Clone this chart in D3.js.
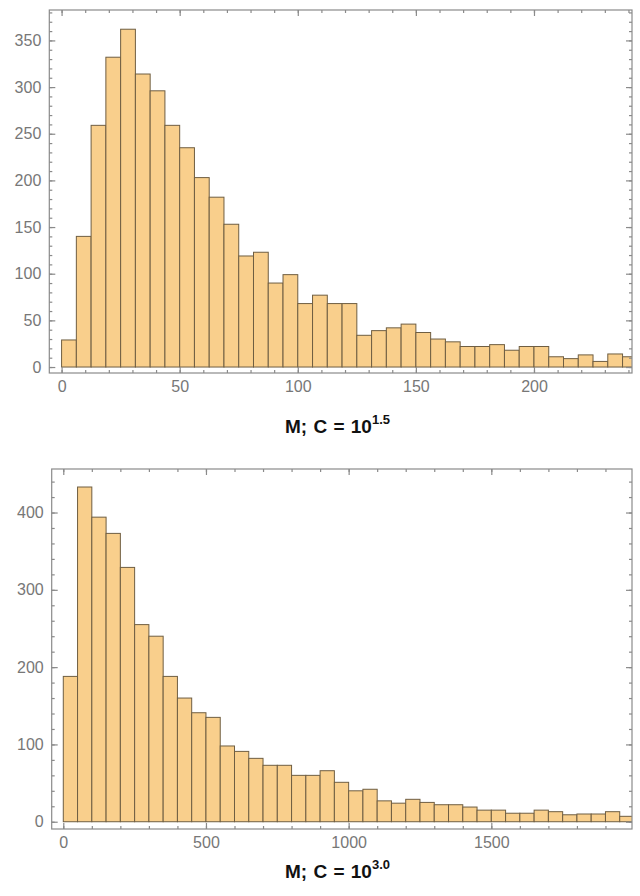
<!DOCTYPE html>
<html>
<head>
<meta charset="utf-8">
<script src="https://cdn.jsdelivr.net/npm/d3@7"></script>
<style>
  body { margin: 0; background: #fff; }
  svg { display: block; }
  .tick text { font-family: "Liberation Sans", Arial, sans-serif; fill: #777; }
</style>
</head>
<body>
<div id="chart"></div>
<script>
// histogram counts
const topBinWidth = 6.25;
const topCounts = [29, 140, 259, 332, 362, 314, 296, 259, 235, 203, 182, 153, 119, 123, 90, 99,
  68, 77, 68, 68, 34, 39, 42, 46, 37, 30, 27, 22, 22, 24, 18, 22, 22, 11, 9, 13, 6, 14, 11];
const topXTicks = [0, 50, 100, 150, 200];
const topYTicks = [0, 50, 100, 150, 200, 250, 300, 350];
const topExp = "1.5";

const botBinWidth = 50;
const botCounts = [188, 433, 394, 373, 329, 255, 240, 188, 160, 141, 135, 98, 91, 82, 73, 73,
  60, 60, 66, 51, 40, 42, 27, 24, 29, 25, 22, 22, 19, 15, 15, 11, 11, 15, 13, 9, 10, 10, 13, 7];
const botXTicks = [0, 500, 1000, 1500];
const botYTicks = [0, 100, 200, 300, 400];
const botExp = "3.0";

const svg = d3.select("#chart").append("svg")
  .attr("width", 640)
  .attr("height", 896);

function drawPanel(opts) {
  const g = svg.append("g");
  const x = d3.scaleLinear().domain(opts.xDomain).range([opts.left, opts.right]);
  const y = d3.scaleLinear().domain(opts.yDomain).range([opts.bottom, opts.top]);

  const bins = opts.counts.map((c, i) => ({ x0: i * opts.bin, x1: (i + 1) * opts.bin, c }));

  g.append("clipPath").attr("id", opts.id)
    .append("rect")
    .attr("x", opts.left).attr("y", opts.top)
    .attr("width", opts.right - opts.left).attr("height", opts.bottom - opts.top);

  g.append("g").attr("clip-path", `url(#${opts.id})`)
    .selectAll("rect")
    .data(bins)
    .enter()
    .append("rect")
    .attr("x", d => x(d.x0))
    .attr("y", d => y(d.c))
    .attr("width", d => x(d.x1) - x(d.x0))
    .attr("height", d => y(0) - y(d.c))
    .style("fill", "#f9cf8c")
    .style("stroke", "#6f5e42")
    .style("stroke-width", 1);

  // frame
  g.append("rect")
    .attr("x", opts.left).attr("y", opts.top)
    .attr("width", opts.right - opts.left).attr("height", opts.bottom - opts.top)
    .style("fill", "none")
    .style("stroke", "#8a8a8a")
    .style("stroke-width", 1.2);

  const xMinor = d3.range(0, opts.xDomain[1], opts.xMinor);
  const yMinor = d3.range(0, opts.yDomain[1], opts.yMinor);

  function axis(gen, transform, values, size, labels) {
    const a = g.append("g").attr("transform", transform)
      .call(gen.tickValues(values).tickSize(size).tickPadding(8)
        .tickFormat(labels ? d3.format("d") : ""));
    a.select(".domain").remove();
    a.selectAll("line").style("stroke", "#8a8a8a").style("stroke-width", 1.2);
    a.selectAll("text").style("font-size", "16px");
    return a;
  }

  axis(d3.axisBottom(x), `translate(0,${opts.bottom})`, xMinor, -3, false);
  axis(d3.axisBottom(x), `translate(0,${opts.bottom})`, opts.xTicks, -6, true);
  axis(d3.axisTop(x), `translate(0,${opts.top})`, xMinor, -3, false);
  axis(d3.axisTop(x), `translate(0,${opts.top})`, opts.xTicks, -6, false);
  axis(d3.axisLeft(y), `translate(${opts.left},0)`, yMinor, -3, false);
  axis(d3.axisLeft(y), `translate(${opts.left},0)`, opts.yTicks, -6, true);
  axis(d3.axisRight(y), `translate(${opts.right},0)`, yMinor, -3, false);
  axis(d3.axisRight(y), `translate(${opts.right},0)`, opts.yTicks, -6, false);

  const label = g.append("text")
    .attr("x", 285)
    .attr("y", opts.labelY)
    .style("font-family", "'Liberation Sans', Arial, sans-serif")
    .style("font-weight", "bold")
    .style("font-size", "19px")
    .style("word-spacing", "1px")
    .style("fill", "#111");
  label.append("tspan").text("M; C = 10");
  label.append("tspan")
    .attr("dy", -9)
    .style("font-size", "13px")
    .text(opts.exp);
}

drawPanel({
  id: "clipTop",
  counts: topCounts, bin: topBinWidth,
  xDomain: [-5.2, 241.5], yDomain: [-6.4, 382.6],
  left: 49.3, right: 632, top: 10, bottom: 373,
  xTicks: topXTicks, yTicks: topYTicks, xMinor: 10, yMinor: 10,
  labelY: 433, exp: topExp
});

drawPanel({
  id: "clipBot",
  counts: botCounts, bin: botBinWidth,
  xDomain: [-40.6, 1993], yDomain: [-9.4, 456.3],
  left: 51.7, right: 632, top: 469, bottom: 829,
  xTicks: botXTicks, yTicks: botYTicks, xMinor: 100, yMinor: 20,
  labelY: 878, exp: botExp
});
</script>
</body>
</html>
